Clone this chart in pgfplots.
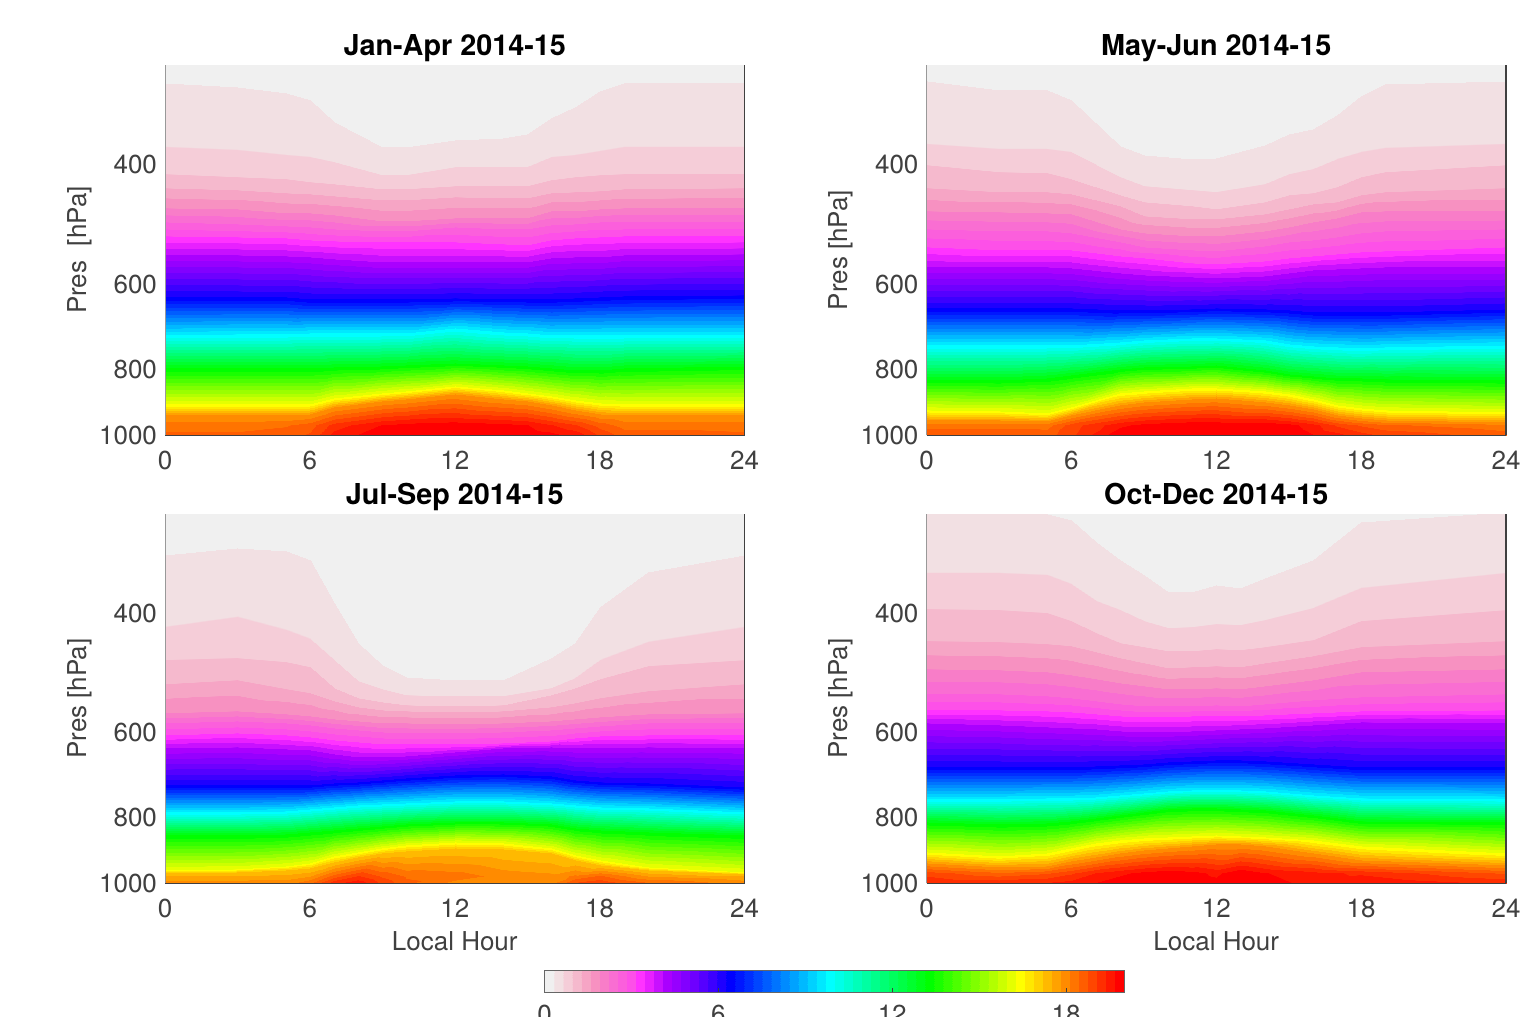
\documentclass[border=0pt]{standalone}
\usepackage{pgfplots}
\usepackage{fontspec}
\setmainfont{TeX Gyre Heros}
\pgfplotsset{compat=1.18}
\definecolor{txt}{HTML}{404040}
\definecolor{bggray}{RGB}{240,240,240}
\pgfplotsset{colormap={bands}{
rgb255(0)=(240,240,240) rgb255(0.98)=(240,240,240)
rgb255(1)=(242,224,227) rgb255(1.98)=(242,224,227)
rgb255(2)=(245,205,216) rgb255(2.98)=(245,205,216)
rgb255(3)=(245,185,205) rgb255(3.98)=(245,185,205)
rgb255(4)=(246,165,197) rgb255(4.98)=(246,165,197)
rgb255(5)=(247,145,193) rgb255(5.98)=(247,145,193)
rgb255(6)=(248,125,200) rgb255(6.98)=(248,125,200)
rgb255(7)=(249,110,210) rgb255(7.98)=(249,110,210)
rgb255(8)=(251,95,220) rgb255(8.98)=(251,95,220)
rgb255(9)=(253,80,232) rgb255(9.98)=(253,80,232)
rgb255(10)=(255,51,255) rgb255(10.98)=(255,51,255)
rgb255(11)=(232,32,255) rgb255(11.98)=(232,32,255)
rgb255(12)=(200,16,255) rgb255(12.98)=(200,16,255)
rgb255(13)=(170,0,255) rgb255(13.98)=(170,0,255)
rgb255(14)=(150,0,255) rgb255(14.98)=(150,0,255)
rgb255(15)=(130,0,255) rgb255(15.98)=(130,0,255)
rgb255(16)=(110,0,255) rgb255(16.98)=(110,0,255)
rgb255(17)=(85,0,255) rgb255(17.98)=(85,0,255)
rgb255(18)=(60,0,255) rgb255(18.98)=(60,0,255)
rgb255(19)=(30,0,255) rgb255(19.98)=(30,0,255)
rgb255(20)=(0,0,255) rgb255(20.98)=(0,0,255)
rgb255(21)=(0,23,255) rgb255(21.98)=(0,23,255)
rgb255(22)=(0,46,255) rgb255(22.98)=(0,46,255)
rgb255(23)=(0,70,255) rgb255(23.98)=(0,70,255)
rgb255(24)=(0,93,255) rgb255(24.98)=(0,93,255)
rgb255(25)=(0,116,255) rgb255(25.98)=(0,116,255)
rgb255(26)=(0,139,255) rgb255(26.98)=(0,139,255)
rgb255(27)=(0,162,255) rgb255(27.98)=(0,162,255)
rgb255(28)=(0,185,255) rgb255(28.98)=(0,185,255)
rgb255(29)=(0,209,255) rgb255(29.98)=(0,209,255)
rgb255(30)=(0,232,255) rgb255(30.98)=(0,232,255)
rgb255(31)=(0,255,255) rgb255(31.98)=(0,255,255)
rgb255(32)=(0,255,232) rgb255(32.98)=(0,255,232)
rgb255(33)=(0,255,209) rgb255(33.98)=(0,255,209)
rgb255(34)=(0,255,185) rgb255(34.98)=(0,255,185)
rgb255(35)=(0,255,162) rgb255(35.98)=(0,255,162)
rgb255(36)=(0,255,139) rgb255(36.98)=(0,255,139)
rgb255(37)=(0,255,116) rgb255(37.98)=(0,255,116)
rgb255(38)=(0,255,93) rgb255(38.98)=(0,255,93)
rgb255(39)=(0,255,70) rgb255(39.98)=(0,255,70)
rgb255(40)=(0,255,46) rgb255(40.98)=(0,255,46)
rgb255(41)=(0,255,23) rgb255(41.98)=(0,255,23)
rgb255(42)=(0,255,0) rgb255(42.98)=(0,255,0)
rgb255(43)=(25,255,0) rgb255(43.98)=(25,255,0)
rgb255(44)=(51,255,0) rgb255(44.98)=(51,255,0)
rgb255(45)=(76,255,0) rgb255(45.98)=(76,255,0)
rgb255(46)=(102,255,0) rgb255(46.98)=(102,255,0)
rgb255(47)=(127,255,0) rgb255(47.98)=(127,255,0)
rgb255(48)=(153,255,0) rgb255(48.98)=(153,255,0)
rgb255(49)=(178,255,0) rgb255(49.98)=(178,255,0)
rgb255(50)=(204,255,0) rgb255(50.98)=(204,255,0)
rgb255(51)=(229,255,0) rgb255(51.98)=(229,255,0)
rgb255(52)=(255,255,0) rgb255(52.98)=(255,255,0)
rgb255(53)=(255,232,0) rgb255(53.98)=(255,232,0)
rgb255(54)=(255,209,0) rgb255(54.98)=(255,209,0)
rgb255(55)=(255,185,0) rgb255(55.98)=(255,185,0)
rgb255(56)=(255,162,0) rgb255(56.98)=(255,162,0)
rgb255(57)=(255,139,0) rgb255(57.98)=(255,139,0)
rgb255(58)=(255,116,0) rgb255(58.98)=(255,116,0)
rgb255(59)=(255,93,0) rgb255(59.98)=(255,93,0)
rgb255(60)=(255,70,0) rgb255(60.98)=(255,70,0)
rgb255(61)=(255,46,0) rgb255(61.98)=(255,46,0)
rgb255(62)=(255,23,0) rgb255(62.98)=(255,23,0)
rgb255(63)=(255,0,0) rgb255(64)=(255,0,0)
}}
\newcommand{\frameit}{%
 \draw[line width=0.3pt, black!40] (axis description cs:0,0) -- (axis description cs:0,1);
 \draw[line width=0.45pt, txt] (axis description cs:0,0) -- (axis description cs:1,0);
 \draw[line width=0.75pt, txt] (axis description cs:1,0) -- (axis description cs:1,1);
}
\pgfplotsset{
 every axis/.style={
  scale only axis, width=289.75pt, anchor=south west,
  ymode=log, y dir=reverse, xmin=0, xmax=24, ymin=285.8, ymax=1000,
  xtick={0,6,12,18,24}, xticklabels={0,6,12,18,24},
  ytick={400,600,800,1000}, yticklabels={400,600,800,1000},
  minor ytick={}, log ticks with fixed point,
  major tick length=0pt, minor tick length=0pt, tick style={draw=none},
  axis line style={draw=none}, axis on top,
  point meta min=0, point meta max=20, colormap name=bands,
  axis background/.style={fill=bggray},
  tick label style={font=\fontsize{13}{15}\selectfont, text=txt},
  xticklabel style={yshift=-4.5pt},
  yticklabel style={xshift=-0.5pt},
  every axis title shift=0pt,
  title style={font=\fontsize{14.4}{16}\bfseries\selectfont, at={(axis description cs:0.5,1.027)}, anchor=base},
  ylabel style={font=\fontsize{13}{15}\selectfont, text=txt, at={(axis description cs:-0.1475,0.5)}, anchor=center},
  xlabel style={font=\fontsize{13}{15}\selectfont, text=txt, at={(axis description cs:0.5,-0.157)}, anchor=center},
  after end axis/.code={\frameit},
 },
 mycont/.style={surf, shader=interp, mesh/rows=15, mesh/cols=15, point meta=explicit},
}
\begin{document}
\begin{tikzpicture}
\path[use as bounding box] (0pt,0pt) rectangle (766pt,508.5pt);
% Jan-Apr
\begin{axis}[at={(82.5pt,291pt)}, height=185pt, title={Jan-Apr 2014-15}, ylabel={Pres\ \ [hPa]}]
\addplot[mycont] table[meta=c,row sep=crcr]{
x y c\\
0 304 .3125\\3 308 .3125\\5 314 .3125\\6 322 .3125\\7 347 .3125\\9 377 .3125\\10 377 .3125\\12 369 .3125\\14 366 .3125\\15 361 .3125\\16 342 .3125\\17 330 .3125\\18 312 .3125\\19 304 .3125\\24 304 .3125\\
0 377 .625\\3 381 .625\\5 387 .625\\6 390 .625\\7 397 .625\\9 415 .625\\10 415 .625\\12 404 .625\\14 404 .625\\15 403 .625\\16 390 .625\\17 387 .625\\18 383 .625\\19 377 .625\\24 377 .625\\
0 413 .9375\\3 417 .9375\\5 421 .9375\\6 424 .9375\\7 428 .9375\\9 435 .9375\\10 435 .9375\\12 431 .9375\\14 431 .9375\\15 431 .9375\\16 422 .9375\\17 418 .9375\\18 415 .9375\\19 413 .9375\\24 413 .9375\\
0 434 1.25\\3 437 1.25\\5 441 1.25\\6 443 1.25\\7 446 1.25\\9 452 1.25\\10 452 1.25\\12 447 1.25\\14 449 1.25\\15 449 1.25\\16 441 1.25\\17 440 1.25\\18 438 1.25\\19 435 1.25\\24 434 1.25\\
0 463 1.875\\3 466 1.875\\5 471 1.875\\6 472 1.875\\7 475 1.875\\9 484 1.875\\10 484 1.875\\12 479 1.875\\14 479 1.875\\15 479 1.875\\16 469 1.875\\17 468 1.875\\18 466 1.875\\19 464 1.875\\24 463 1.875\\
0 487 2.5\\3 490 2.5\\5 493 2.5\\6 495 2.5\\7 498 2.5\\9 501 2.5\\10 501 2.5\\12 495 2.5\\14 498 2.5\\15 498 2.5\\16 492 2.5\\17 490 2.5\\18 487 2.5\\19 487 2.5\\24 487 2.5\\
0 509 3.125\\3 512 3.125\\5 514 3.125\\6 516 3.125\\7 518 3.125\\9 521 3.125\\10 521 3.125\\12 520 3.125\\14 523 3.125\\15 525 3.125\\16 516 3.125\\17 514 3.125\\18 512 3.125\\19 509 3.125\\24 509 3.125\\
0 543 4.0625\\3 543 4.0625\\5 545 4.0625\\6 548 4.0625\\7 552 4.0625\\9 556 4.0625\\10 556 4.0625\\12 556 4.0625\\14 557 4.0625\\15 557 4.0625\\16 550 4.0625\\17 548 4.0625\\18 547 4.0625\\19 543 4.0625\\24 541 4.0625\\
0 626 6.25\\3 626 6.25\\5 626 6.25\\6 630 6.25\\7 632 6.25\\9 632 6.25\\10 632 6.25\\12 628 6.25\\14 630 6.25\\15 630 6.25\\16 630 6.25\\17 628 6.25\\18 626 6.25\\19 624 6.25\\24 622 6.25\\
0 712 9.6875\\3 710 9.6875\\5 710 9.6875\\6 707 9.6875\\7 707 9.6875\\9 707 9.6875\\10 707 9.6875\\12 697 9.6875\\14 705 9.6875\\15 707 9.6875\\16 712 9.6875\\17 714 9.6875\\18 714 9.6875\\19 712 9.6875\\24 712 9.6875\\
0 797 13.125\\3 797 13.125\\5 797 13.125\\6 797 13.125\\7 794 13.125\\9 792 13.125\\10 789 13.125\\12 783 13.125\\14 789 13.125\\15 792 13.125\\16 797 13.125\\17 802 13.125\\18 802 13.125\\19 797 13.125\\24 792 13.125\\
0 900 16.25\\3 900 16.25\\5 900 16.25\\6 900 16.25\\7 882 16.25\\9 867 16.25\\10 861 16.25\\12 847 16.25\\14 858 16.25\\15 867 16.25\\16 876 16.25\\17 888 16.25\\18 897 16.25\\19 900 16.25\\24 900 16.25\\
0 934 17.8125\\3 934 17.8125\\5 934 17.8125\\6 931 17.8125\\7 910 17.8125\\9 891 17.8125\\10 885 17.8125\\12 870 17.8125\\14 885 17.8125\\15 891 17.8125\\16 903 17.8125\\17 919 17.8125\\18 931 17.8125\\19 934 17.8125\\24 934 17.8125\\
0 967 18.3\\3 967 18.3\\5 967 18.4\\6 967 18.6\\7 967 19.2\\9 967 19.7\\10 967 19.8\\12 967 19.9\\14 967 19.8\\15 967 19.7\\16 967 19.4\\17 967 19.1\\18 967 18.6\\19 967 18.3\\24 967 18.3\\
0 1000 18.5\\3 1000 18.5\\5 1000 18.6\\6 1000 18.8\\7 1000 19.5\\9 1000 19.9\\10 1000 19.9\\12 1000 19.9\\14 1000 19.9\\15 1000 19.9\\16 1000 19.8\\17 1000 19.6\\18 1000 19\\19 1000 18.6\\24 1000 18.5\\
};
\end{axis}
% May-Jun
\begin{axis}[at={(463.25pt,291pt)}, height=185pt, title={May-Jun 2014-15}, ylabel={Pres [hPa]}]
\addplot[mycont] table[meta=c,row sep=crcr]{
x y c\\
0 302 .3125\\3 311 .3125\\5 311 .3125\\6 322 .3125\\8 376 .3125\\9 387 .3125\\11 393 .3125\\12 392 .3125\\14 375 .3125\\15 361 .3125\\16 355 .3125\\17 338 .3125\\18 317 .3125\\19 305 .3125\\24 302 .3125\\
0 374 .625\\3 380 .625\\5 380 .625\\6 384 .625\\8 417 .625\\9 431 .625\\11 437 .625\\12 440 .625\\14 427 .625\\15 414 .625\\16 407 .625\\17 393 .625\\18 384 .625\\19 378 .625\\24 374 .625\\
0 401 .9375\\3 410 .9375\\5 412 .9375\\6 420 .9375\\8 444 .9375\\9 455 .9375\\11 461 .9375\\12 465 .9375\\14 454 .9375\\15 444 .9375\\16 441 .9375\\17 432 .9375\\18 418 .9375\\19 411 .9375\\24 401 .9375\\
0 433 1.25\\3 440 1.25\\5 440 1.25\\6 443 1.25\\8 461 1.25\\9 476 1.25\\11 481 1.25\\12 481 1.25\\14 474 1.25\\15 466 1.25\\16 458 1.25\\17 454 1.25\\18 444 1.25\\19 440 1.25\\24 433 1.25\\
0 469 1.875\\3 470 1.875\\5 472 1.875\\6 474 1.875\\8 498 1.875\\9 504 1.875\\11 509 1.875\\12 509 1.875\\14 502 1.875\\15 495 1.875\\16 487 1.875\\17 479 1.875\\18 470 1.875\\19 469 1.875\\24 469 1.875\\
0 498 2.5\\3 502 2.5\\5 502 2.5\\6 504 2.5\\8 520 2.5\\9 530 2.5\\11 534 2.5\\12 536 2.5\\14 527 2.5\\15 521 2.5\\16 516 2.5\\17 511 2.5\\18 504 2.5\\19 502 2.5\\24 498 2.5\\
0 530 3.125\\3 534 3.125\\5 534 3.125\\6 534 3.125\\8 545 3.125\\9 549 3.125\\11 558 3.125\\12 560 3.125\\14 554 3.125\\15 549 3.125\\16 545 3.125\\17 541 3.125\\18 538 3.125\\19 536 3.125\\24 530 3.125\\
0 567 4.0625\\3 567 4.0625\\5 567 4.0625\\6 569 4.0625\\8 577 4.0625\\9 581 4.0625\\11 585 4.0625\\12 587 4.0625\\14 583 4.0625\\15 577 4.0625\\16 573 4.0625\\17 571 4.0625\\18 569 4.0625\\19 567 4.0625\\24 567 4.0625\\
0 650 6.25\\3 650 6.25\\5 650 6.25\\6 650 6.25\\8 654 6.25\\9 654 6.25\\11 652 6.25\\12 650 6.25\\14 652 6.25\\15 656 6.25\\16 659 6.25\\17 659 6.25\\18 659 6.25\\19 659 6.25\\24 652 6.25\\
0 737 9.6875\\3 737 9.6875\\5 737 9.6875\\6 737 9.6875\\8 729 9.6875\\9 724 9.6875\\11 719 9.6875\\12 719 9.6875\\14 724 9.6875\\15 734 9.6875\\16 739 9.6875\\17 742 9.6875\\18 744 9.6875\\19 742 9.6875\\24 737 9.6875\\
0 830 13.125\\3 830 13.125\\5 824 13.125\\6 816 13.125\\8 799 13.125\\9 794 13.125\\11 791 13.125\\12 789 13.125\\14 802 13.125\\15 813 13.125\\16 819 13.125\\17 824 13.125\\18 824 13.125\\19 827 13.125\\24 830 13.125\\
0 919 16.25\\3 922 16.25\\5 928 16.25\\6 909 16.25\\8 867 16.25\\9 861 16.25\\11 853 16.25\\12 853 16.25\\14 861 16.25\\15 870 16.25\\16 885 16.25\\17 903 16.25\\18 912 16.25\\19 919 16.25\\24 925 16.25\\
0 950 17.8125\\3 950 17.8125\\5 954 17.8125\\6 934 17.8125\\8 903 17.8125\\9 894 17.8125\\11 885 17.8125\\12 882 17.8125\\14 894 17.8125\\15 903 17.8125\\16 916 17.8125\\17 934 17.8125\\18 944 17.8125\\19 950 17.8125\\24 957 17.8125\\
0 967 18.3\\3 967 18.3\\5 967 18.3\\6 967 18.9\\8 967 19.6\\9 967 19.8\\11 967 19.95\\12 967 19.95\\14 967 19.95\\15 967 19.8\\16 967 19.5\\17 967 19\\18 967 18.7\\19 967 18.5\\24 967 18.2\\
0 1000 18.7\\3 1000 18.7\\5 1000 18.6\\6 1000 19\\8 1000 19.95\\9 1000 19.95\\11 1000 19.95\\12 1000 19.95\\14 1000 19.95\\15 1000 19.95\\16 1000 19.7\\17 1000 19.5\\18 1000 19.2\\19 1000 19\\24 1000 18.6\\
};
\end{axis}
% Jul-Sep
\begin{axis}[at={(82.5pt,67pt)}, height=184.5pt, title={Jul-Sep 2014-15}, ylabel={Pres [hPa]}, xlabel={Local Hour}]
\addplot[mycont] table[meta=c,row sep=crcr]{
x y c\\
0 328 .3125\\3 321 .3125\\5 324 .3125\\6 334 .3125\\7 387 .3125\\8 443 .3125\\9 477 .3125\\10 497 .3125\\12 502 .3125\\14 502 .3125\\16 466 .3125\\17 443 .3125\\18 392 .3125\\20 348 .3125\\24 328 .3125\\
0 419 .625\\3 405 .625\\5 424 .625\\6 437 .625\\7 469 .625\\8 504 .625\\9 518 .625\\10 528 .625\\12 530 .625\\14 530 .625\\16 516 .625\\17 498 .625\\18 469 .625\\20 441 .625\\24 419 .625\\
0 469 .9375\\3 466 .9375\\5 472 .9375\\6 480 .9375\\7 516 .9375\\8 534 .9375\\9 541 .9375\\10 547 .9375\\12 548 .9375\\14 547 .9375\\16 528 .9375\\17 516 .9375\\18 500 .9375\\20 479 .9375\\24 469 .9375\\
0 509 1.25\\3 502 1.25\\5 518 1.25\\6 525 1.25\\7 539 1.25\\8 550 1.25\\9 556 1.25\\10 558 1.25\\12 560 1.25\\14 558 1.25\\16 550 1.25\\17 543 1.25\\18 534 1.25\\20 521 1.25\\24 509 1.25\\
0 561 1.875\\3 558 1.875\\5 563 1.875\\6 567 1.875\\7 573 1.875\\8 577 1.875\\9 581 1.875\\10 581 1.875\\12 583 1.875\\14 581 1.875\\16 577 1.875\\17 573 1.875\\18 569 1.875\\20 563 1.875\\24 561 1.875\\
0 581 2.5\\3 577 2.5\\5 581 2.5\\6 585 2.5\\7 591 2.5\\8 595 2.5\\9 599 2.5\\10 601 2.5\\12 601 2.5\\14 599 2.5\\16 595 2.5\\17 591 2.5\\18 587 2.5\\20 581 2.5\\24 581 2.5\\
0 605 3.125\\3 601 3.125\\5 605 3.125\\6 609 3.125\\7 616 3.125\\8 620 3.125\\9 624 3.125\\10 624 3.125\\12 624 3.125\\14 622 3.125\\16 618 3.125\\17 611 3.125\\18 607 3.125\\20 605 3.125\\24 605 3.125\\
0 632 4.0625\\3 630 4.0625\\5 635 4.0625\\6 637 4.0625\\7 645 4.0625\\8 652 4.0625\\9 652 4.0625\\10 650 4.0625\\12 641 4.0625\\14 632 4.0625\\16 630 4.0625\\17 632 4.0625\\18 632 4.0625\\20 630 4.0625\\24 632 4.0625\\
0 717 6.25\\3 717 6.25\\5 717 6.25\\6 717 6.25\\7 712 6.25\\8 710 6.25\\9 705 6.25\\10 700 6.25\\12 693 6.25\\14 691 6.25\\16 696 6.25\\17 705 6.25\\18 710 6.25\\20 712 6.25\\24 722 6.25\\
0 786 9.6875\\3 786 9.6875\\5 783 9.6875\\6 778 9.6875\\7 773 9.6875\\8 767 9.6875\\9 765 9.6875\\10 762 9.6875\\12 757 9.6875\\14 757 9.6875\\16 762 9.6875\\17 767 9.6875\\18 773 9.6875\\20 775 9.6875\\24 786 9.6875\\
0 850 13.125\\3 850 13.125\\5 847 13.125\\6 841 13.125\\7 835 13.125\\8 830 13.125\\9 824 13.125\\10 819 13.125\\12 813 13.125\\14 813 13.125\\16 819 13.125\\17 830 13.125\\18 835 13.125\\20 841 13.125\\24 850 13.125\\
0 957 16.25\\3 954 16.25\\5 944 16.25\\6 934 16.25\\7 912 16.25\\8 900 16.25\\9 888 16.25\\10 879 16.25\\12 870 16.25\\14 873 16.25\\16 888 16.25\\17 909 16.25\\18 925 16.25\\20 947 16.25\\24 963 16.25\\
0 967 17.1875\\3 963 17.1875\\5 957 17.1875\\6 950 17.1875\\7 931 17.1875\\8 916 17.1875\\9 903 17.1875\\10 897 17.1875\\12 888 17.1875\\14 891 17.1875\\16 903 17.1875\\17 925 17.1875\\18 941 17.1875\\20 957 17.1875\\24 970 17.1875\\
0 977 17.5\\3 977 17.5\\5 977 17.6\\6 977 17.8\\7 977 18.6\\8 977 19.1\\9 977 18.7\\10 977 18.4\\12 977 18.3\\14 977 18\\16 977 17.9\\17 977 18.2\\18 977 18.5\\20 977 17.8\\24 977 17.5\\
0 1000 18\\3 1000 18\\5 1000 18\\6 1000 18.4\\7 1000 19.3\\8 1000 19.6\\9 1000 19\\10 1000 18.5\\12 1000 18\\14 1000 17.8\\16 1000 18\\17 1000 18.8\\18 1000 19\\20 1000 18.5\\24 1000 18\\
};
\end{axis}
% Oct-Dec
\begin{axis}[at={(463.25pt,67pt)}, height=184.5pt, title={Oct-Dec 2014-15}, ylabel={Pres [hPa]}, xlabel={Local Hour}]
\addplot[mycont] table[meta=c,row sep=crcr]{
x y c\\
0 280 .3125\\3 280 .3125\\5 286 .3125\\6 292 .3125\\7 314 .3125\\8 334 .3125\\9 352 .3125\\10 372 .3125\\11 372 .3125\\12 364 .3125\\13 367 .3125\\14 355 .3125\\16 334 .3125\\18 294 .3125\\24 284 .3125\\
0 349 .625\\3 349 .625\\5 352 .625\\6 362 .625\\7 384 .625\\8 396 .625\\9 411 .625\\10 421 .625\\11 419 .625\\12 415 .625\\13 417 .625\\14 409 .625\\16 393 .625\\18 367 .625\\24 349 .625\\
0 394 .9375\\3 396 .9375\\5 400 .9375\\6 411 .9375\\7 428 .9375\\8 443 .9375\\9 449 .9375\\10 455 .9375\\11 455 .9375\\12 452 .9375\\13 454 .9375\\14 449 .9375\\16 438 .9375\\18 411 .9375\\24 396 .9375\\
0 440 1.25\\3 441 1.25\\5 444 1.25\\6 447 1.25\\7 457 1.25\\8 466 1.25\\9 474 1.25\\10 482 1.25\\11 480 1.25\\12 479 1.25\\13 480 1.25\\14 474 1.25\\16 463 1.25\\18 449 1.25\\24 440 1.25\\
0 484 1.875\\3 485 1.875\\5 489 1.875\\6 494 1.875\\7 500 1.875\\8 507 1.875\\9 512 1.875\\10 518 1.875\\11 518 1.875\\12 516 1.875\\13 518 1.875\\14 512 1.875\\16 502 1.875\\18 489 1.875\\24 484 1.875\\
0 526 2.5\\3 526 2.5\\5 530 2.5\\6 534 2.5\\7 539 2.5\\8 545 2.5\\9 548 2.5\\10 548 2.5\\11 548 2.5\\12 547 2.5\\13 548 2.5\\14 545 2.5\\16 537 2.5\\18 532 2.5\\24 526 2.5\\
0 556 3.125\\3 556 3.125\\5 558 3.125\\6 560 3.125\\7 563 3.125\\8 567 3.125\\9 569 3.125\\10 569 3.125\\11 567 3.125\\12 567 3.125\\13 567 3.125\\14 565 3.125\\16 561 3.125\\18 558 3.125\\24 556 3.125\\
0 581 4.0625\\3 585 4.0625\\5 589 4.0625\\6 591 4.0625\\7 593 4.0625\\8 597 4.0625\\9 599 4.0625\\10 599 4.0625\\11 597 4.0625\\12 595 4.0625\\13 593 4.0625\\14 591 4.0625\\16 585 4.0625\\18 579 4.0625\\24 581 4.0625\\
0 674 6.25\\3 674 6.25\\5 674 6.25\\6 674 6.25\\7 672 6.25\\8 670 6.25\\9 668 6.25\\10 663 6.25\\11 661 6.25\\12 659 6.25\\13 659 6.25\\14 661 6.25\\16 668 6.25\\18 674 6.25\\24 674 6.25\\
0 752 9.6875\\3 752 9.6875\\5 749 9.6875\\6 749 9.6875\\7 747 9.6875\\8 742 9.6875\\9 737 9.6875\\10 732 9.6875\\11 729 9.6875\\12 729 9.6875\\13 729 9.6875\\14 732 9.6875\\16 742 9.6875\\18 749 9.6875\\24 752 9.6875\\
0 813 13.125\\3 819 13.125\\5 816 13.125\\6 810 13.125\\7 802 13.125\\8 794 13.125\\9 786 13.125\\10 778 13.125\\11 775 13.125\\12 775 13.125\\13 778 13.125\\14 781 13.125\\16 794 13.125\\18 810 13.125\\24 813 13.125\\
0 900 16.25\\3 912 16.25\\5 903 16.25\\6 888 16.25\\7 873 16.25\\8 864 16.25\\9 858 16.25\\10 855 16.25\\11 853 16.25\\12 850 16.25\\13 853 16.25\\14 855 16.25\\16 864 16.25\\18 882 16.25\\24 903 16.25\\
0 934 17.8125\\3 947 17.8125\\5 944 17.8125\\6 928 17.8125\\7 916 17.8125\\8 903 17.8125\\9 894 17.8125\\10 888 17.8125\\11 882 17.8125\\12 876 17.8125\\13 876 17.8125\\14 882 17.8125\\16 903 17.8125\\18 925 17.8125\\24 941 17.8125\\
0 967 18.9\\3 967 18.5\\5 967 18.7\\6 967 19\\7 967 19.4\\8 967 19.6\\9 967 19.8\\10 967 19.9\\11 967 19.8\\12 967 19.6\\13 967 19.95\\14 967 19.7\\16 967 19.5\\18 967 19.3\\24 967 18.7\\
0 1000 19.4\\3 1000 19.3\\5 1000 19.4\\6 1000 19.5\\7 1000 19.7\\8 1000 19.9\\9 1000 19.95\\10 1000 19.95\\11 1000 19.9\\12 1000 19.8\\13 1000 19.95\\14 1000 19.8\\16 1000 19.6\\18 1000 19.7\\24 1000 19.3\\
};
\end{axis}
% colour bar
\pgfplotsset{every axis/.style={}}
\begin{axis}[scale only axis, anchor=south west, at={(272.25pt,12.5pt)}, width=289.75pt, height=10.75pt,
  xmin=0, xmax=20, ymin=0, ymax=1, xtick={0,6,12,18}, xticklabels={0,6,12,18}, ytick=\empty,
  point meta min=0, point meta max=20, colormap name=bands, axis on top,
  xtick align=inside, xtick pos=bottom, major tick length=2pt, tick style={txt, line width=0.3pt},
  axis line style={black!60, line width=0.4pt},
  tick label style={font=\fontsize{13}{15}\selectfont, text=txt}, xticklabel style={yshift=-3pt}]
\addplot[surf, shader=interp, mesh/rows=2, mesh/cols=2, point meta=explicit] table[meta=c,row sep=crcr]{
x y c\\
0 0 0\\20 0 20\\
0 1 0\\20 1 20\\
};
\end{axis}
\end{tikzpicture}
\end{document}
